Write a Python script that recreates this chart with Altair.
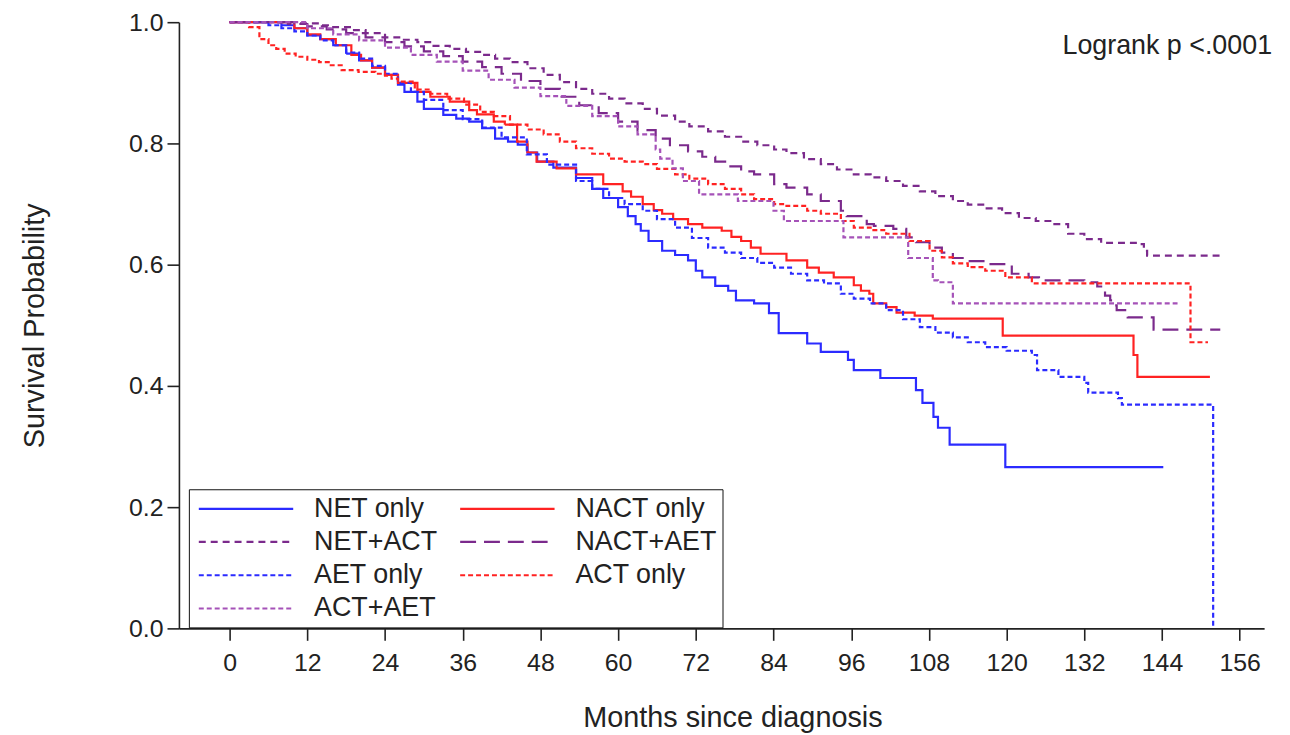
import altair as alt
import pandas as pd

groups = ["NET only", "NACT only", "NET+ACT", "NACT+AET", "AET only", "ACT only", "ACT+AET"]
colors = ["#2b2bff", "#ff2222", "#7b2a8c", "#7b2a8c", "#2b2bff", "#ff2222", "#a552b8"]
dashes = [[1, 0], [1, 0], [7, 5], [16, 8], [5, 3], [5, 3], [5, 3]]

net_only_m = [0, 6, 8, 10, 12, 14, 16, 18, 20, 22, 24, 26, 27, 29, 30, 33, 35, 37, 39, 41,
              43, 44.5, 46, 47.5, 50, 53.5, 56, 57.7, 60, 61.5, 62.7, 63.5, 64.7, 66.8, 68.8, 70.8, 72, 73, 75, 77,
              78.2, 81, 83.3, 84.8, 89.2, 91.3, 95.5, 96.4, 100.5, 106, 107, 108.7, 109.4, 111.2, 119.8, 144.2]
net_only_v = [1.0, 1.0, 0.995, 0.99, 0.978, 0.972, 0.962, 0.948, 0.937, 0.925, 0.913, 0.897, 0.885, 0.869, 0.857, 0.847, 0.841, 0.836, 0.825, 0.808,
              0.803, 0.798, 0.785, 0.770, 0.76, 0.743, 0.725, 0.71, 0.695, 0.68, 0.667, 0.656, 0.639, 0.623, 0.616, 0.607, 0.59, 0.579, 0.565, 0.557,
              0.541, 0.536, 0.52, 0.487, 0.47, 0.456, 0.443, 0.426, 0.413, 0.393, 0.372, 0.349, 0.331, 0.303, 0.266, 0.266]

nact_only_m = [0, 8, 10, 12, 14, 16.4, 18.8, 20.3, 22, 24, 26, 29, 31, 34, 37, 38.2, 40.8, 42.5, 44.4, 46,
               47.4, 50.5, 53.5, 57.7, 60.7, 62, 63.8, 65.5, 66.8, 68.5, 70.8, 73, 76, 77.5, 79, 80.5, 82, 86, 89.2, 91,
               93.3, 96.4, 97.5, 98.8, 99.4, 101.4, 103, 105.8, 108.6, 119.4, 139.6, 140.2, 151.4]
nact_only_v = [1.0, 1.0, 0.99, 0.98, 0.972, 0.962, 0.946, 0.937, 0.925, 0.913, 0.90, 0.885, 0.877, 0.869, 0.855, 0.848, 0.836, 0.831, 0.803, 0.785,
               0.77, 0.759, 0.749, 0.733, 0.721, 0.712, 0.70, 0.69, 0.684, 0.675, 0.667, 0.661, 0.656, 0.646, 0.639, 0.628, 0.618, 0.607, 0.595, 0.587,
               0.579, 0.566, 0.557, 0.552, 0.536, 0.53, 0.521, 0.516, 0.511, 0.483, 0.451, 0.415, 0.415]

net_act_m = [0, 8, 10, 13.8, 16, 18.8, 21, 24, 26.5, 29, 31.5, 34, 36.5, 39, 41, 43.3, 46, 48.5, 51, 53.5,
             56, 58.6, 61, 63.8, 66, 68.8, 71, 73.9, 76.5, 79, 81.5, 84.1, 86, 88.7, 91.3, 93.8, 96.4, 99, 101.4, 104,
             106.6, 109, 111.7, 114, 116.7, 119.3, 121.9, 124.5, 127, 129.5, 132, 134.6, 140.2, 141.2, 141.7, 153]
net_act_v = [1.0, 1.0, 0.998, 0.995, 0.992, 0.987, 0.982, 0.975, 0.971, 0.967, 0.961, 0.956, 0.951, 0.946, 0.94, 0.934, 0.924, 0.913, 0.901, 0.89,
             0.882, 0.874, 0.866, 0.857, 0.846, 0.836, 0.828, 0.82, 0.811, 0.803, 0.797, 0.79, 0.784, 0.774, 0.766, 0.757, 0.749, 0.744, 0.738, 0.73,
             0.721, 0.713, 0.705, 0.699, 0.693, 0.685, 0.677, 0.672, 0.667, 0.651, 0.642, 0.636, 0.634, 0.623, 0.615, 0.615]

nact_aet_m = [0, 6, 9, 12, 15, 18, 21, 24, 27, 30, 33, 36, 39, 42, 45, 48, 51, 54, 57, 60,
              63, 65.8, 68, 70.8, 73, 75, 77, 79, 81, 84.1, 86, 89.2, 91.3, 94.4, 95.3, 98.4, 99.5, 102.5, 104.5, 106,
              108.1, 110, 111.7, 114, 116.7, 120.8, 123.4, 125, 132, 134, 134.6, 135.2, 136, 136.6, 137, 138.7, 142.7, 153]
nact_aet_v = [1.0, 1.0, 0.997, 0.993, 0.988, 0.982, 0.975, 0.967, 0.96, 0.952, 0.944, 0.935, 0.926, 0.915, 0.903, 0.89, 0.877, 0.863, 0.85, 0.836,
              0.822, 0.808, 0.797, 0.787, 0.778, 0.77, 0.762, 0.754, 0.749, 0.733, 0.727, 0.716, 0.705, 0.689, 0.68, 0.667, 0.664, 0.659, 0.645, 0.637,
              0.628, 0.62, 0.611, 0.606, 0.601, 0.585, 0.579, 0.574, 0.571, 0.564, 0.557, 0.549, 0.541, 0.533, 0.525, 0.513, 0.493, 0.493]

aet_only_m = [0, 4, 6, 8, 10, 12, 14, 16, 18, 20, 22, 24, 26, 28, 30, 33, 36, 39, 42, 45.9,
              49, 53.5, 56, 58.6, 61, 63.8, 66, 68.8, 71.4, 73.9, 76.5, 79, 81.5, 84.1, 86.7, 89.2, 91.8, 94.4, 96.4, 98.9,
              101.4, 104, 106.6, 109, 111.7, 114, 116.7, 120, 123.9, 124.7, 128, 132, 132.6, 137.2, 137.8, 151.9]
aet_only_v = [1.0, 1.0, 0.995, 0.99, 0.985, 0.978, 0.97, 0.962, 0.95, 0.94, 0.928, 0.915, 0.90, 0.885, 0.872, 0.855, 0.84, 0.826, 0.81, 0.782,
              0.765, 0.738, 0.725, 0.71, 0.70, 0.689, 0.675, 0.661, 0.644, 0.628, 0.62, 0.611, 0.603, 0.595, 0.585, 0.574, 0.569, 0.552, 0.544, 0.536,
              0.525, 0.51, 0.497, 0.488, 0.48, 0.472, 0.464, 0.458, 0.451, 0.426, 0.415, 0.405, 0.389, 0.38, 0.369, 0.0]

act_only_m = [0, 2, 3, 4.6, 6, 7.2, 8.5, 10.2, 12, 13.8, 15.3, 17.3, 19.9, 22.5, 24, 25, 26, 28.6, 31, 33.6,
              36.2, 38.7, 40.8, 43.3, 46, 48.5, 51, 53.5, 56, 58.6, 61, 63.8, 66, 68.8, 71, 73.9, 76.5, 79, 81, 84.1,
              86, 89.2, 91.3, 94.4, 96.4, 99, 101.4, 105, 108.1, 110, 111.7, 114, 116.7, 119.8, 123.9, 148.4, 151.1]
act_only_v = [1.0, 1.0, 0.992, 0.972, 0.962, 0.956, 0.948, 0.943, 0.938, 0.934, 0.929, 0.921, 0.918, 0.915, 0.912, 0.907, 0.902, 0.889, 0.882, 0.874,
              0.864, 0.852, 0.845, 0.831, 0.823, 0.815, 0.803, 0.792, 0.783, 0.775, 0.77, 0.766, 0.758, 0.749, 0.742, 0.733, 0.725, 0.716, 0.708, 0.70,
              0.697, 0.689, 0.684, 0.672, 0.661, 0.657, 0.651, 0.639, 0.623, 0.612, 0.602, 0.596, 0.59, 0.579, 0.569, 0.472, 0.472]

act_aet_m = [0, 10, 12, 16, 20, 24, 28, 32, 36, 40, 44, 48, 52, 56, 60, 63, 65.8, 66.5, 68.4, 70,
             72.5, 78.5, 84, 85.6, 94.8, 104.8, 108.6, 109.4, 111.7, 146.4]
act_aet_v = [1.0, 1.0, 0.99, 0.98, 0.97, 0.958, 0.946, 0.935, 0.92, 0.905, 0.892, 0.878, 0.862, 0.845, 0.828, 0.815, 0.79, 0.775, 0.759, 0.738,
             0.716, 0.705, 0.689, 0.672, 0.645, 0.611, 0.574, 0.571, 0.536, 0.536]

x_ticks = list(range(0, 157, 12))
y_ticks = [0.0, 0.2, 0.4, 0.6, 0.8, 1.0]

series = {
    "NET only": (net_only_m, net_only_v),
    "NACT only": (nact_only_m, nact_only_v),
    "NET+ACT": (net_act_m, net_act_v),
    "NACT+AET": (nact_aet_m, nact_aet_v),
    "AET only": (aet_only_m, aet_only_v),
    "ACT only": (act_only_m, act_only_v),
    "ACT+AET": (act_aet_m, act_aet_v),
}
rows = []
for g in groups:
    ms, vs = series[g]
    for m, v in zip(ms, vs):
        rows.append({"group": g, "month": m, "surv": v})
df = pd.DataFrame(rows)

FONT = "Liberation Sans"

lines = alt.Chart(df).mark_line(interpolate="step-after", strokeWidth=2.2, clip=False).encode(
    x=alt.X("month:Q", scale=alt.Scale(domain=[-7.83, 159.77], nice=False, zero=False),
            axis=alt.Axis(values=x_ticks, title="Months since diagnosis", format="d",
                          titleX=557, titleY=99, titleBaseline="alphabetic", titleAlign="center")),
    y=alt.Y("surv:Q", scale=alt.Scale(domain=[0, 1], nice=False),
            axis=alt.Axis(values=y_ticks, format=".1f", title="Survival Probability",
                          titleX=-145, titleY=305, titleBaseline="middle", titleAlign="center", titleAngle=-90)),
    color=alt.Color("group:N", scale=alt.Scale(domain=groups, range=colors), sort=groups, title=None),
    strokeDash=alt.StrokeDash("group:N", scale=alt.Scale(domain=groups, range=dashes), sort=groups, title=None),
    detail="group:N",
    order="month:Q",
)

note = alt.Chart(pd.DataFrame({"t": ["Logrank p <.0001"]})).mark_text(
    align="right", baseline="alphabetic", font=FONT, fontSize=27, color="#222222"
).encode(x=alt.value(1100), y=alt.value(32), text="t:N")

chart = alt.layer(lines, note).properties(
    width=1092, height=610,
    autosize=alt.AutoSizeParams(type="none"),
    padding={"left": 172, "top": 12, "right": 18, "bottom": 105},
).configure_view(stroke=None).configure_axis(
    labelFont=FONT, titleFont=FONT, labelFontSize=25, titleFontSize=29, titleFontWeight="normal",
    labelColor="#222222", titleColor="#222222", domainColor="#222222", tickColor="#222222",
    domainWidth=1.6, tickWidth=1.6, tickSize=12, grid=False, labelPadding=4,
).configure_axisX(labelPadding=10).configure_legend(
    orient="none", legendX=10, legendY=470, direction="horizontal", columns=2, columnPadding=18, rowPadding=5.5,
    padding=6, strokeColor="#111111", labelFont=FONT, labelFontSize=27, labelColor="#222222",
    symbolType="M-5,0H5", symbolSize=361, symbolStrokeWidth=2.2, symbolOffset=38, labelOffset=55,
)

chart.save("out.html", embed_options={"renderer": "svg", "actions": False})
